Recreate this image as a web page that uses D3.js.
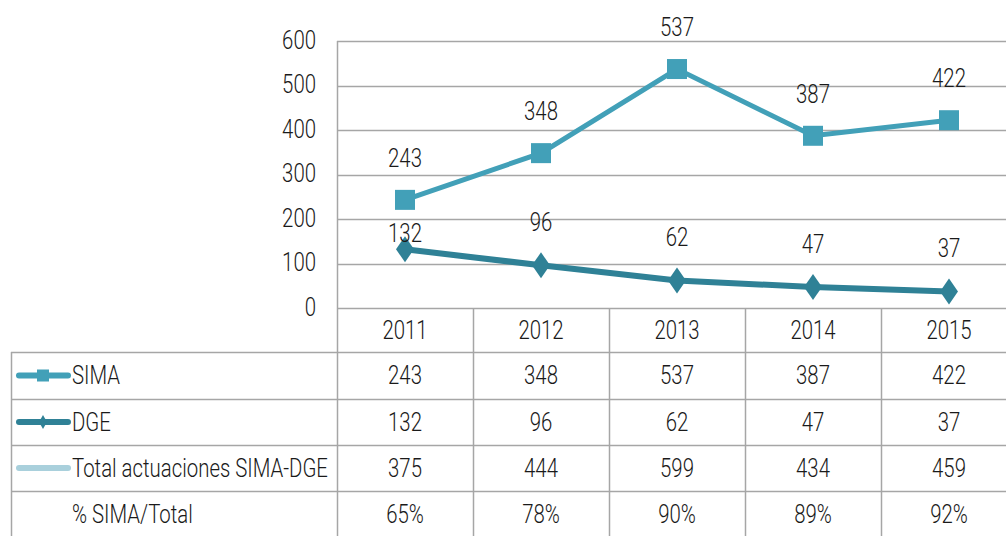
<!DOCTYPE html>
<html>
<head>
<meta charset="utf-8">
<script src="https://cdn.jsdelivr.net/npm/d3@7"></script>
<style>
  body { margin: 0; background: #fff; }
  svg text { font-family: Roboto, "DejaVu Sans", sans-serif; font-size: 25px; font-weight: 300; fill: #1a1a1a; }
</style>
</head>
<body>
<div class="graph-goes-here"></div>
<script>
// chart data
var years = ["2011", "2012", "2013", "2014", "2015"];
var simaValues = [243, 348, 537, 387, 422];
var dgeValues = [132, 96, 62, 47, 37];
var totalValues = [375, 444, 599, 434, 459];
var pctValues = ["65%", "78%", "90%", "89%", "92%"];
var yTicks = [0, 100, 200, 300, 400, 500, 600];
var rowNames = ["SIMA", "DGE", "Total actuaciones SIMA-DGE", "% SIMA/Total"];

var simaColor = "#42a0b8";
var dgeColor = "#2f8196";
var totalColor = "#a9d0dc";
var gridColor = "#a6a6a6";

var W = 1006, H = 536;
var plotLeft = 337, bandW = 136;
var plotTop = 41, plotBottom = 308;
var rowH = [44, 47, 46, 46, 46];   // header row + 4 data rows
var squeeze = 0.815;               // narrow the font like the condensed original

var svg = d3.select(".graph-goes-here")
    .append("svg")
    .attr("width", W)
    .attr("height", H);

// text drawn with a horizontal squeeze
function addText(g, px, py, s, anchor) {
    return g.append("text")
        .attr("transform", "translate(" + px + "," + py + ") scale(" + squeeze + ",1)")
        .attr("dy", "0.35em")
        .attr("text-anchor", anchor || "middle")
        .text(s);
}

var x = d3.scaleBand().domain(years).range([plotLeft, plotLeft + bandW * years.length]);
var y = d3.scaleLinear().domain([0, 600]).range([plotBottom, plotTop]);

// gridlines
svg.append("g")
    .selectAll("line")
    .data(yTicks)
    .join("line")
    .attr("x1", plotLeft)
    .attr("x2", W)
    .attr("y1", d => Math.round(y(d)) + 0.5)
    .attr("y2", d => Math.round(y(d)) + 0.5)
    .attr("stroke", gridColor)
    .attr("stroke-width", 1.5);

// y axis labels
var yAxis = svg.append("g")
    .attr("transform", "translate(" + plotLeft + ",0)")
    .call(d3.axisLeft(y).tickValues(yTicks).tickSize(0).tickPadding(0));
yAxis.select(".domain").remove();
yAxis.selectAll("text")
    .attr("x", null)
    .attr("transform", "translate(-21,-1) scale(" + squeeze + ",1)")
    .style("font-size", "25px")
    .style("font-weight", "300")
    .style("font-family", "Roboto, 'DejaVu Sans', sans-serif")
    .attr("fill", "#1a1a1a");

// table geometry
var rowTops = [plotBottom];
rowH.forEach((h, i) => rowTops.push(rowTops[i] + h));
var tableBottom = rowTops[rowTops.length - 1];

var grid = svg.append("g").attr("stroke", gridColor).attr("stroke-width", 1.5);

// left axis line / column divider
grid.append("line")
    .attr("x1", plotLeft + 0.5).attr("x2", plotLeft + 0.5)
    .attr("y1", plotTop).attr("y2", tableBottom);

// column dividers in the table
grid.selectAll(".col")
    .data(years.slice(1))
    .join("line")
    .attr("x1", d => x(d) + 0.5).attr("x2", d => x(d) + 0.5)
    .attr("y1", plotBottom).attr("y2", tableBottom);

// row lines (label column begins at the first data row)
grid.selectAll(".row")
    .data(rowTops.slice(1, rowTops.length - 1))
    .join("line")
    .attr("x1", 11).attr("x2", W)
    .attr("y1", d => d + 0.5).attr("y2", d => d + 0.5);

grid.append("line")
    .attr("x1", 11.5).attr("x2", 11.5)
    .attr("y1", rowTops[1]).attr("y2", tableBottom);

var cx = (d, i) => x(years[i]) + x.bandwidth() / 2;

// year header
var header = svg.append("g");
years.forEach((yr, i) => addText(header, cx(yr, i), (rowTops[0] + rowTops[1]) / 2, yr));

// table body
var body = svg.append("g");
var tableRows = [simaValues, dgeValues, totalValues, pctValues];
tableRows.forEach((vals, r) => {
    var cy = (rowTops[r + 1] + rowTops[r + 2]) / 2;
    vals.forEach((v, i) => addText(body, cx(v, i), cy, v));
    addText(body, 72, cy, rowNames[r], "start");
});

// legend keys
var legendKeys = [simaColor, dgeColor, totalColor];
legendKeys.forEach((c, r) => {
    var cy = (rowTops[r + 1] + rowTops[r + 2]) / 2;
    svg.append("line")
        .attr("x1", 19).attr("x2", 68)
        .attr("y1", cy).attr("y2", cy)
        .attr("stroke", c)
        .attr("stroke-width", 6)
        .attr("stroke-linecap", "round");
    if (r === 0) {
        svg.append("rect")
            .attr("x", 37).attr("y", cy - 6)
            .attr("width", 12).attr("height", 12)
            .attr("fill", c);
    }
    if (r === 1) {
        svg.append("path")
            .attr("d", "M43," + (cy - 7) + "L47," + cy + "L43," + (cy + 7) + "L39," + cy + "Z")
            .attr("fill", c);
    }
});

var line = d3.line().x(cx).y(d => y(d));

// DGE series
svg.append("path")
    .datum(dgeValues)
    .attr("fill", "none")
    .attr("stroke", dgeColor)
    .attr("stroke-width", 6)
    .attr("d", line);

svg.append("g")
    .selectAll("path")
    .data(dgeValues)
    .join("path")
    .attr("transform", (d, i) => "translate(" + cx(d, i) + "," + y(d) + ")")
    .attr("d", "M0,-13L9,0L0,13L-9,0Z")
    .attr("fill", dgeColor);

// SIMA series
svg.append("path")
    .datum(simaValues)
    .attr("fill", "none")
    .attr("stroke", simaColor)
    .attr("stroke-width", 5)
    .attr("d", line);

svg.append("g")
    .selectAll("rect")
    .data(simaValues)
    .join("rect")
    .attr("x", (d, i) => cx(d, i) - 10)
    .attr("y", d => y(d) - 10)
    .attr("width", 20)
    .attr("height", 20)
    .attr("fill", simaColor);

// data labels
var labels = svg.append("g");
simaValues.forEach((v, i) => addText(labels, cx(v, i), y(v) - 42, v));
// first DGE label sits closer, just under the SIMA marker
dgeValues.forEach((v, i) => addText(labels, cx(v, i), y(v) - (i === 0 ? 16 : 43), v));
</script>
</body>
</html>
